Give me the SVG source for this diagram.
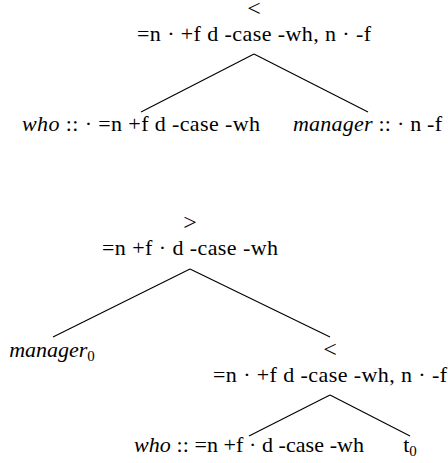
<svg xmlns="http://www.w3.org/2000/svg" width="448" height="463" viewBox="0 0 448 463">
<style>
text{font-family:"Liberation Serif","Times New Roman",serif;font-size:22px;fill:#000;text-anchor:middle}
.op{font-size:24px}
.i{font-style:italic}
.sub{font-size:15px}
.edge line{stroke:#000;stroke-width:1.1;fill:none}
</style>
<rect width="448" height="463" fill="#fff"/>
<g id="connectors" class="edge">
 <line x1="254" y1="54" x2="141" y2="112"/>
 <line x1="254" y1="54" x2="368" y2="112"/>
 <line x1="190" y1="269" x2="53" y2="337"/>
 <line x1="190" y1="269" x2="330" y2="337"/>
 <line x1="330" y1="395" x2="249" y2="436"/>
 <line x1="330" y1="395" x2="410" y2="436"/>
</g>
<g id="node-root1">
 <text class="op" x="254" y="16">&lt;</text>
 <text x="254" y="41" textLength="234">=n · +f d -case -wh, n · -f</text>
</g>
<g id="node-who1">
 <text x="141" y="131" textLength="238"><tspan class="i">who</tspan> :: · =n +f d -case -wh</text>
</g>
<g id="node-manager1">
 <text x="367.5" y="131" textLength="149"><tspan class="i">manager</tspan> :: · n -f</text>
</g>
<g id="node-root2">
 <text class="op" x="190" y="230">&gt;</text>
 <text x="190" y="255" textLength="176">=n +f · d -case -wh</text>
</g>
<g id="node-manager0">
 <text x="52" y="357"><tspan class="i">manager</tspan><tspan class="sub" dy="4">0</tspan></text>
</g>
<g id="node-sub">
 <text class="op" x="330" y="357">&lt;</text>
 <text x="330" y="382" textLength="234">=n · +f d -case -wh, n · -f</text>
</g>
<g id="node-who2">
 <text x="249" y="452" textLength="230"><tspan class="i">who</tspan> :: =n +f · d -case -wh</text>
</g>
<g id="node-t0">
 <text x="410" y="452">t<tspan class="sub" dy="4">0</tspan></text>
</g>
</svg>
